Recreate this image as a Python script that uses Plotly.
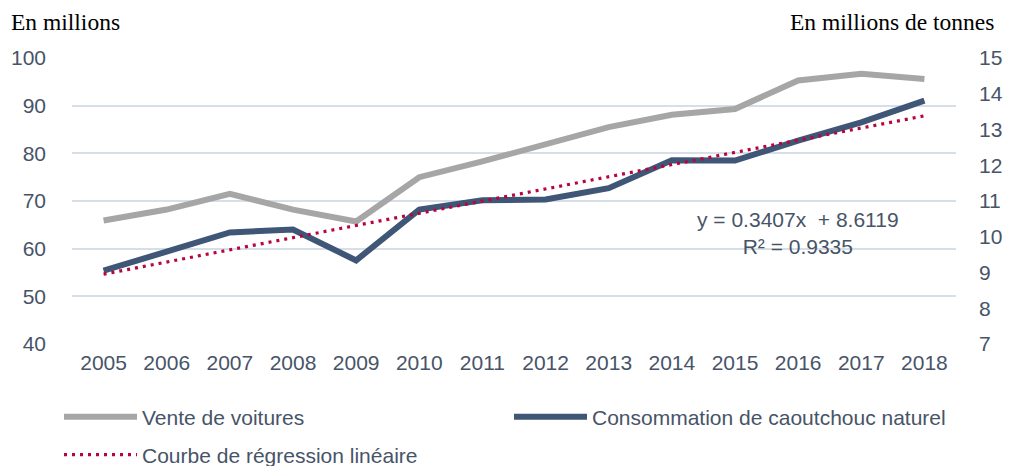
import plotly.graph_objects as go

years = [2005, 2006, 2007, 2008, 2009, 2010, 2011, 2012, 2013, 2014, 2015, 2016, 2017, 2018]
vente_voitures = [65.9, 68.2, 71.5, 68.2, 65.7, 75.0, 78.3, 81.8, 85.5, 88.1, 89.3, 95.3, 96.7, 95.6]
caoutchouc = [9.05, 9.59, 10.12, 10.20, 9.34, 10.76, 11.02, 11.04, 11.36, 12.14, 12.13, 12.69, 13.20, 13.81]
slope = 0.3407
intercept = 8.6119
r2 = 0.9335
regression = [slope * (i + 1) + intercept for i in range(len(years))]

left_ticks = [40, 50, 60, 70, 80, 90, 100]
right_ticks = [7, 8, 9, 10, 11, 12, 13, 14, 15]

W, H = 1009, 466
L, R, T, B = 72, 53, 58, 122
PW, PH = W - L - R, H - T - B


def px_x(x):
    return (x - L) / PW


def px_y(y):
    return (H - B - y) / PH


txt = "#475468"
fig = go.Figure()
fig.add_trace(go.Scatter(x=years, y=vente_voitures, name="Vente de voitures", mode="lines",
                         line=dict(color="#A6A6A6", width=6), legend="legend"))
fig.add_trace(go.Scatter(x=years, y=caoutchouc, name="Consommation de caoutchouc naturel", mode="lines",
                         line=dict(color="#3F5677", width=6), yaxis="y2", legend="legend2"))
fig.add_trace(go.Scatter(x=years, y=regression, name="Courbe de régression linéaire", mode="lines",
                         line=dict(color="#B8043F", width=3.2, dash="3px,5px"), yaxis="y2",
                         legend="legend3"))

leg_common = dict(orientation="h", xanchor="left", yanchor="middle", xref="paper", yref="paper",
                  itemwidth=73, font=dict(size=21, color=txt), bgcolor="rgba(0,0,0,0)")

fig.update_layout(
    width=W, height=H,
    margin=dict(l=L, r=R, t=T, b=B, autoexpand=False),
    plot_bgcolor="white", paper_bgcolor="white",
    font=dict(family="Liberation Sans, Arial", size=21, color=txt),
    xaxis=dict(range=[2004.5, 2018.5], tickmode="array", tickvals=years,
               ticktext=[str(y) for y in years], showgrid=False, zeroline=False,
               showline=False, ticks="", tickfont=dict(size=21, color=txt), ticklabelstandoff=4),
    yaxis=dict(range=[40, 100], tickvals=left_ticks, showgrid=True, gridcolor="#D6DEE8",
               gridwidth=1.5, zeroline=False, showline=False, ticks="",
               tickfont=dict(size=21, color=txt), ticklabelstandoff=25),
    yaxis2=dict(range=[7, 15], tickvals=right_ticks, overlaying="y", side="right",
                showgrid=False, zeroline=False, showline=False, ticks="",
                tickfont=dict(size=21, color=txt), ticklabelstandoff=22),
    showlegend=True,
    legend=dict(x=px_x(59), y=px_y(417), **leg_common),
    legend2=dict(x=px_x(509), y=px_y(417), **leg_common),
    legend3=dict(x=px_x(59), y=px_y(455), **leg_common),
)

fig.add_annotation(text="En millions", xref="paper", yref="paper", x=px_x(9), y=px_y(22),
                   xanchor="left", yanchor="middle", showarrow=False,
                   font=dict(family="Liberation Serif, Times New Roman", size=23.5, color="black"))
fig.add_annotation(text="En millions de tonnes", xref="paper", yref="paper", x=px_x(996), y=px_y(22),
                   xanchor="right", yanchor="middle", showarrow=False,
                   font=dict(family="Liberation Serif, Times New Roman", size=23.5, color="black"))
fig.add_annotation(text=f"y = {slope}x  + {intercept}<br>R² = {r2}", x=2015.99, y=10.1,
                   xref="x", yref="y2",
                   showarrow=False, align="center", xanchor="center", yanchor="middle",
                   font=dict(size=21, color=txt))

fig.write_html("out.html", config={"displayModeBar": False},
               post_script="document.body.style.margin='0px';")
